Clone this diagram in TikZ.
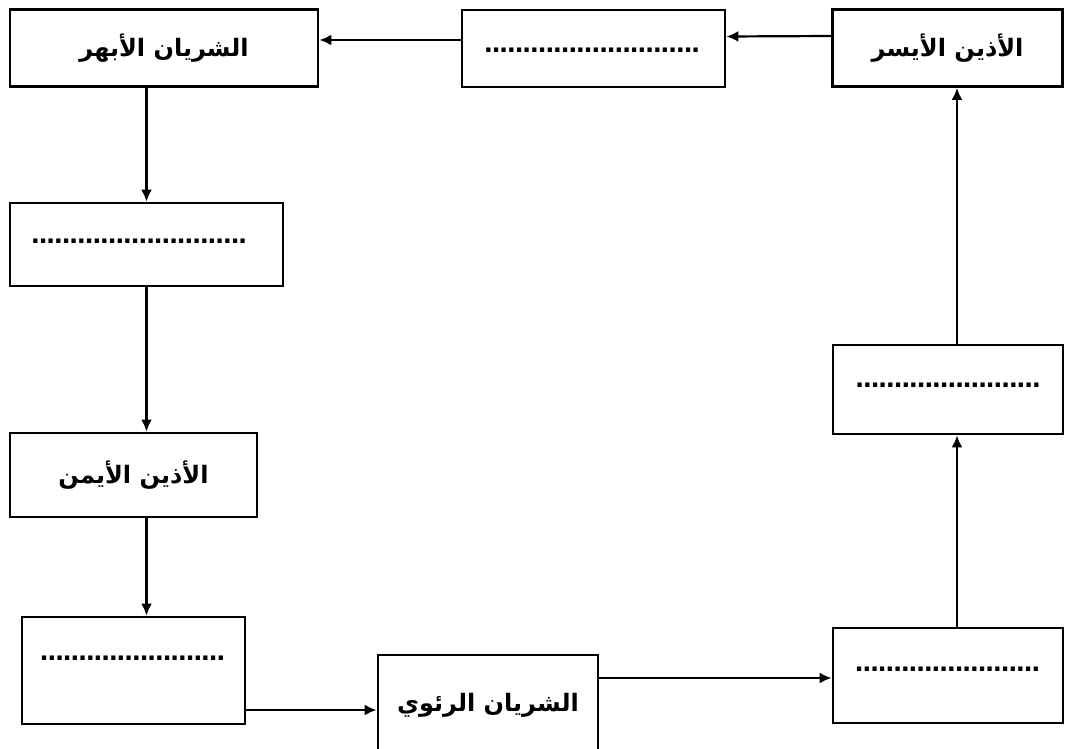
\documentclass[tikz,border=0pt]{standalone}
\usepackage{fontspec}
\usetikzlibrary{arrows.meta}
\TeXXeTstate=1
\newfontfamily\arabicfont[Script=Arabic]{DejaVu Sans}
\newfontfamily\dotfont[LetterSpace=-6]{DejaVu Sans}
\newcommand\ar[1]{\arabicfont\bfseries\beginR #1\endR}
\newcommand\dotrow[1]{\dotfont\bfseries #1}
\tikzset{
  box/.style={draw=black, line width=2.8pt, fill=white, inner sep=0pt,
    font=\fontsize{24}{27}\selectfont},
  dots/.style={inner sep=0pt, anchor=base, font=\fontsize{24}{26}\selectfont},
  conn/.style={line width=2.2pt, -{Latex[length=12pt,width=11pt]}}
}
\begin{document}
\begin{tikzpicture}[x=1pt,y=-1pt]
\useasboundingbox (0,0) rectangle (1071,749);
% boxes
\node[box, minimum width=308pt, minimum height=77pt] (aorta) at (164,48) {\ar{الشريان الأبهر}};
\node[box, minimum width=263pt, minimum height=77pt] (tm) at (593.5,48.5) {};
\node[box, minimum width=230pt, minimum height=77pt] (la) at (947.5,48) {\ar{الأذين الأيسر}};
\node[box, minimum width=273pt, minimum height=83pt] (lv) at (146.5,244.5) {};
\node[box, minimum width=247pt, minimum height=84pt] (ra) at (133.5,475) {\ar{الأذين الأيمن}};
\node[box, minimum width=223pt, minimum height=107pt] (bl) at (133.5,670.5) {};
\node[box, minimum width=220pt, minimum height=100pt] (pa) at (488,705) {\ar{الشريان الرئوي}};
\node[box, minimum width=230pt, minimum height=89pt] (rm) at (948,389.5) {};
\node[box, minimum width=230pt, minimum height=95pt] (br) at (948,675.5) {};
% dotted placeholders
\node[dots] (d1) at (592,52.5) {\dotrow{............................}};
\node[dots] (d2) at (139,243.5) {\dotrow{............................}};
\node[dots] (d3) at (132.5,660.5) {\dotrow{........................}};
\node[dots] (d4) at (948,387.5) {\dotrow{........................}};
\node[dots] (d5) at (947.5,671.5) {\dotrow{........................}};
% connectors
\draw[conn] ([yshift=12pt]la.west) -- ([yshift=12pt]tm.east);
\draw[conn] ([yshift=8.5pt]tm.west) -- ([yshift=8pt]aorta.east);
\draw[conn] (aorta.south -| lv.north) -- (lv.north);
\draw[conn] (lv.south) -- (lv.south |- ra.north);
\draw[conn] (lv.south |- ra.south) -- (lv.south |- bl.north);
\draw[conn] ([yshift=-39.5pt]bl.east) -- ([yshift=-39.5pt]bl.east -| pa.west);
\draw[conn] ([yshift=27pt]pa.east) -- ([yshift=27pt]pa.east -| br.west);
\draw[conn] ([xshift=9pt]br.north) -- ([xshift=9pt]rm.south);
\draw[conn] ([xshift=9pt]rm.north) -- ([xshift=9pt]rm.north |- la.south);
\end{tikzpicture}
\end{document}
